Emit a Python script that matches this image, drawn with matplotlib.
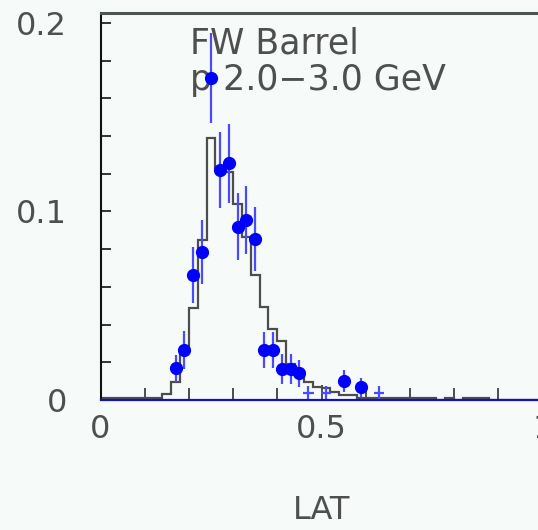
import numpy as np
import matplotlib
matplotlib.use("Agg")
import matplotlib.pyplot as plt

# histogram (MC), bins of 0.02 from 0 to 1
bin_edges = np.linspace(0, 1, 51)
mc_values = [0.001, 0.001, 0.001, 0.001, 0.001, 0.001, 0.001, 0.003, 0.0097, 0.026,
             0.0486, 0.085, 0.139, 0.123, 0.121, 0.104, 0.0867, 0.0663, 0.0495, 0.0375,
             0.0315, 0.019, 0.015, 0.0097, 0.0071, 0.0062, 0.0044, 0.0027, 0.0027, 0.0009,
             0.0009, 0.0009, 0.0009, 0.0009, 0.0009, 0.0009, 0.0009, 0.0009, 0.0, 0.0009,
             0.0, 0.0009, 0.0009, 0.0009, 0.0, 0.0, 0.0, 0.0, 0.0, 0.0]

# data points with markers
data_x = [0.17, 0.19, 0.21, 0.23, 0.25, 0.27, 0.29, 0.31, 0.33, 0.35,
          0.37, 0.39, 0.41, 0.43, 0.45, 0.55, 0.59]
data_y = [0.0168, 0.0265, 0.0663, 0.0787, 0.1707, 0.122, 0.1255, 0.0919, 0.0955, 0.0854,
          0.0265, 0.0265, 0.0163, 0.0163, 0.0141, 0.0101, 0.0067]
data_err = [0.007, 0.010, 0.015, 0.017, 0.024, 0.020, 0.021, 0.0177, 0.018, 0.017,
            0.0097, 0.0097, 0.008, 0.008, 0.007, 0.0058, 0.005]

# small entries drawn only as crosses
small_x = [0.47, 0.51, 0.63]
small_y = [0.0039, 0.0039, 0.0039]
small_err = [0.0034, 0.0034, 0.0034]

bg = '#f6faf8'
txt = '#4f4f4f'

fig = plt.figure(figsize=(5.38, 5.30), dpi=100, facecolor=bg)
ax = fig.add_axes([100.5 / 538, 130 / 530, 442 / 538, 387 / 530], facecolor=bg)

ax.stairs(mc_values, bin_edges, color='#4d4d4d', linewidth=1.6)

ax.errorbar(data_x, data_y, yerr=data_err, fmt='o', color='#0000ff', ms=8.5,
            ecolor='#4a4aff', elinewidth=1.6, capsize=0, zorder=3)
ax.errorbar(small_x, small_y, yerr=small_err, xerr=0.012, fmt='none',
            ecolor='#4a4aff', elinewidth=1.6, capsize=0, zorder=3)

ax.set_xlim(0, 1)
ax.set_ylim(0, 0.2053)

ax.set_xticks([0, 0.5, 1])
ax.set_xticklabels(['0', '0.5', '1'])
ax.set_xticks([0.1, 0.2, 0.3, 0.4, 0.6, 0.7, 0.8, 0.9], minor=True)
ax.set_yticks([0, 0.1, 0.2])
ax.set_yticklabels(['0', '0.1', '0.2'])
ax.set_yticks([0.02, 0.04, 0.06, 0.08, 0.12, 0.14, 0.16, 0.18], minor=True)

ax.tick_params(axis='y', which='both', direction='in', length=7, width=1.4,
               color='#333333', pad=24, labelsize=23, labelcolor=txt)
ax.tick_params(axis='x', which='major', direction='in', length=11, width=1.4,
               color='#4d4d4d', pad=10, labelsize=23, labelcolor=txt)
ax.tick_params(axis='x', which='minor', direction='in', length=9, width=1.4,
               color='#4d4d4d')

ax.spines['left'].set_color('#111111')
ax.spines['left'].set_linewidth(1.5)
ax.spines['top'].set_color('#4d5550')
ax.spines['top'].set_linewidth(2.2)
ax.spines['bottom'].set_color('#1010c8')
ax.spines['bottom'].set_linewidth(1.6)
ax.spines['right'].set_visible(False)

ax.set_xlabel('LAT', fontsize=23, color=txt)
ax.xaxis.set_label_coords(0.5, -0.245)

ax.text(0.2025, 0.965, 'FW Barrel', transform=ax.transAxes, fontsize=25,
        color=txt, va='top', ha='left')
ax.text(0.2025, 0.872, 'p 2.0\u22123.0 GeV', transform=ax.transAxes, fontsize=25,
        color=txt, va='top', ha='left')

fig.savefig('out.png', dpi=100, facecolor=bg)
